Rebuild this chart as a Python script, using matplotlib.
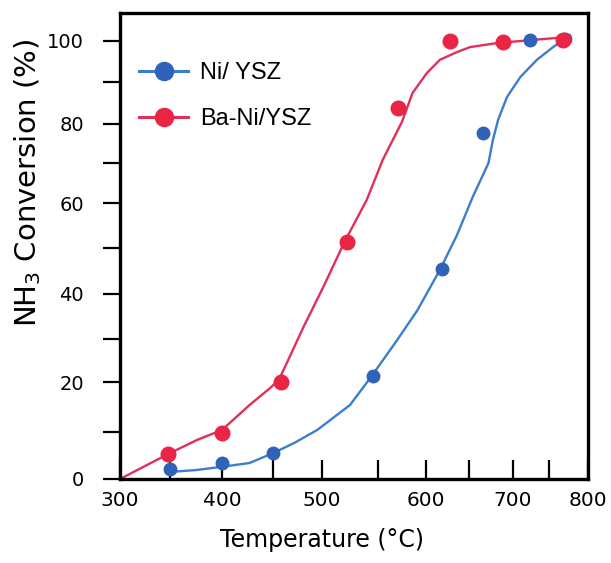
import numpy as np
import matplotlib
matplotlib.use("Agg")
import matplotlib.pyplot as plt

# ---------------- data ----------------
# measured points
ni_temp = [350, 400, 450, 546, 619, 666, 724, 771]
ni_conv = [2.1, 3.3, 5.5, 21.4, 45.4, 77.7, 100.2, 100.4]
ba_temp = [348, 400, 458, 522, 571, 628, 688, 768]
ba_conv = [5.3, 9.8, 20.0, 51.3, 83.8, 100.0, 99.8, 100.2]

# hand-drawn guide curves
ni_curve_temp = [350, 375, 400, 427, 450, 472, 495, 525, 545, 570, 591, 616,
                 636, 654, 672, 677, 683, 693, 710, 733, 755, 773]
ni_curve_conv = [1.5, 1.9, 2.6, 3.4, 5.5, 7.7, 10.4, 15.4, 21.6, 29.8, 36.4, 45.2,
                 52.9, 61.5, 70.0, 75.9, 81.0, 86.4, 91.2, 95.4, 98.5, 100.8]
ba_curve_temp = [300, 348, 376, 400, 427, 446, 456, 481, 501, 520, 540, 555,
                 575, 586, 601, 616, 636, 651, 682, 724, 768, 777]
ba_curve_conv = [0.0, 5.3, 8.3, 10.4, 15.4, 18.6, 20.5, 32.7, 41.5, 51.3, 60.8, 70.8,
                 80.5, 87.4, 92.2, 95.4, 97.3, 98.5, 99.5, 100.2, 100.9, 101.4]

series_labels = ["Ni/ YSZ", "Ba-Ni/YSZ"]
x_tick_labels = [300, 400, 500, 600, 700, 800]
x_minor_ticks = [350, 450, 550, 650, 750]
y_tick_labels = [0, 20, 40, 60, 80, 100]
y_minor_ticks = [10, 30, 50, 70, 90]

# ---------------- hand-drawn (uneven) axis calibration ----------------
x_cal_val = [200, 300, 350, 400, 450, 500, 550, 600, 650, 700, 750, 800, 900]
x_cal_pos = [-0.214, 0.0, 0.107, 0.218, 0.327, 0.432, 0.551, 0.654, 0.746, 0.840, 0.917, 1.0, 1.167]
y_cal_val = [-20, 0, 10, 20, 30, 40, 50, 60, 70, 80, 90, 100, 107, 130]
y_cal_pos = [-0.20, 0.0, 0.101, 0.208, 0.300, 0.397, 0.496, 0.592, 0.678, 0.762, 0.852, 0.940, 1.0, 1.20]


def make_scale(vals, pos):
    v = np.asarray(vals, float)
    p = np.asarray(pos, float)
    fwd = lambda a: np.interp(a, v, p)
    inv = lambda a: np.interp(a, p, v)
    return fwd, inv


BLUE_LINE = "#3a7fcb"
BLUE_PT = "#2f62b8"
RED_LINE = "#e0305a"
RED_PT = "#ea2445"

fig = plt.figure(figsize=(6.11, 5.63), dpi=100)
ax = fig.add_axes([120 / 611, 1 - 479 / 563, 468 / 611, 466 / 563])

ax.set_xscale("function", functions=make_scale(x_cal_val, x_cal_pos))
ax.set_yscale("function", functions=make_scale(y_cal_val, y_cal_pos))
ax.set_xlim(300, 800)
ax.set_ylim(0, 107)

ax.plot(ni_curve_temp, ni_curve_conv, color=BLUE_LINE, lw=1.7, zorder=2,
        solid_joinstyle="round", solid_capstyle="round")
ax.plot(ba_curve_temp, ba_curve_conv, color=RED_LINE, lw=1.7, zorder=2,
        solid_joinstyle="round", solid_capstyle="round")
ax.plot(ni_temp, ni_conv, ls="none", marker="o", ms=9, color=BLUE_PT, zorder=3)
ax.plot(ba_temp, ba_conv, ls="none", marker="o", ms=10.5, color=RED_PT, zorder=3)

# legend handles
h1, = ax.plot([], [], color=BLUE_LINE, lw=2.2, marker="o", ms=13, mfc=BLUE_PT, mec=BLUE_PT)
h2, = ax.plot([], [], color=RED_LINE, lw=2.2, marker="o", ms=13, mfc=RED_PT, mec=RED_PT)
leg = ax.legend([h1, h2], series_labels, loc="upper left", bbox_to_anchor=(0.0, 0.935),
                frameon=False, handlelength=2.1, handletextpad=0.5, labelspacing=1.0,
                prop={"family": "Liberation Sans", "size": 17}, borderaxespad=0.4)

for s in ax.spines.values():
    s.set_linewidth(2.4)
    s.set_color("black")

hand = {"family": "DejaVu Sans", "color": "black"}

ax.set_xticks(x_tick_labels)
ax.set_xticklabels([str(v) for v in x_tick_labels], fontsize=14.5, **hand)
ax.set_xticks(x_minor_ticks, minor=True)
ax.tick_params(axis="x", which="both", direction="in", length=14, width=1.6, pad=9)

ax.set_yticks(y_tick_labels)
ax.set_yticklabels([str(v) for v in y_tick_labels], fontsize=14, **hand)
ax.set_yticks(y_minor_ticks, minor=True)
ax.tick_params(axis="y", which="both", direction="out", length=12, width=1.6, pad=14)

ax.set_xlabel("Temperature (°C)", fontsize=17, **hand)
ax.xaxis.set_label_coords(0.432, -0.105)
ax.set_ylabel("NH$_3$ Conversion (%)", fontsize=21, **hand)
ax.yaxis.set_label_coords(-0.165, 0.635)

fig.savefig("out.png", dpi=100)
